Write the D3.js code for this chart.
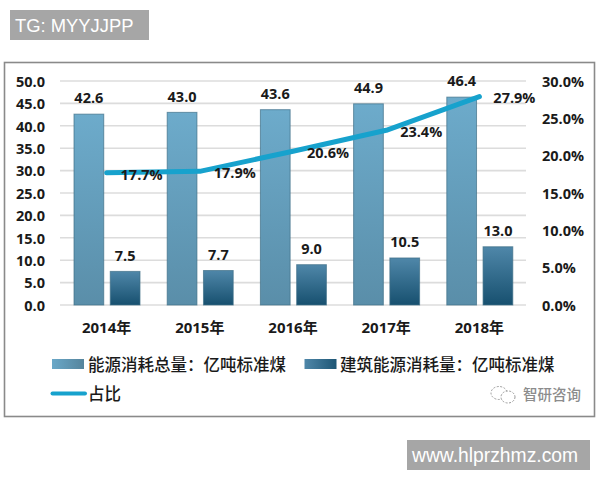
<!DOCTYPE html>
<html><head><meta charset="utf-8">
<script src="https://cdn.jsdelivr.net/npm/d3@7"></script>
<style>
html,body{margin:0;padding:0;background:#fff}
svg{display:block}
text{font-family:"Open Sans","Noto Sans CJK SC",sans-serif;font-weight:700;fill:#1a1a1a}
.cjk{font-family:"Noto Sans CJK SC",sans-serif}
.domain{display:none}
.tick line{display:none}
</style></head><body>
<script>
const categories=["2014年","2015年","2016年","2017年","2018年"];
const totalEnergy=[42.6,43.0,43.6,44.9,46.4];
const buildingEnergy=[7.5,7.7,9.0,10.5,13.0];
const share=[17.7,17.9,20.6,23.4,27.9];
const seriesNames=["能源消耗总量\uFF1A亿吨标准煤","建筑能源消耗量\uFF1A亿吨标准煤","占比"];
const leftTicks=[0,5,10,15,20,25,30,35,40,45,50];
const rightTicks=[0,5,10,15,20,25,30];

const svg=d3.select("body").append("svg").attr("width",600).attr("height",480);
const defs=svg.append("defs");
function grad(id,a,b){const g=defs.append("linearGradient").attr("id",id).attr("x1",0).attr("x2",0).attr("y1",0).attr("y2",1);
 g.append("stop").attr("offset","0%").attr("stop-color",a);g.append("stop").attr("offset","100%").attr("stop-color",b);}
grad("g1","#6dabcb","#5a8ea9");
grad("g2","#4f87a9","#17506f");
function hgrad(id,a,b){const g=defs.append("linearGradient").attr("id",id);
 g.append("stop").attr("offset","0%").attr("stop-color",a);g.append("stop").attr("offset","100%").attr("stop-color",b);}
hgrad("h1","#6aa8c8","#55849c");
hgrad("h2","#4f87a9","#1d5675");

// frame
svg.append("rect").attr("x",4.5).attr("y",62.5).attr("width",590).attr("height",354)
 .attr("fill","#fff").attr("stroke","#8a8a8a").attr("stroke-width",1.6);

const x=d3.scaleBand().domain(categories).range([60,526]);
const inner=d3.scaleBand().domain([0,1]).range([14,80]).paddingInner(0.18);
const y=d3.scaleLinear().domain([0,50]).range([305,81]);
const yR=d3.scaleLinear().domain([0,30]).range([305,81]);

// gridlines
svg.append("g").selectAll("line").data(leftTicks).join("line")
 .attr("x1",60).attr("x2",526).attr("y1",d=>y(d)).attr("y2",d=>y(d))
 .attr("stroke","#dcdcdc").attr("stroke-width",1.6);

// axes
const axL=svg.append("g").attr("transform","translate(60,0)")
 .call(d3.axisLeft(y).tickValues(leftTicks).tickFormat(d3.format(".1f")).tickSize(0).tickPadding(15));
axL.selectAll("text").attr("font-size",14.5).attr("dy","0.36em");
const axR=svg.append("g").attr("transform","translate(526,0)")
 .call(d3.axisRight(yR).tickValues(rightTicks).tickFormat(d=>d.toFixed(1)+"%").tickSize(0).tickPadding(16));
axR.selectAll("text").attr("font-size",14.5).attr("dy","0.36em");
const axB=svg.append("g").attr("transform","translate(0,305)")
 .call(d3.axisBottom(x).tickSize(0).tickPadding(17));
axB.selectAll("text").attr("font-size",15).attr("dy","0.71em");

// bars
function bars(vals,idx,fill){
 const g=svg.append("g");
 g.selectAll("rect").data(vals).join("rect")
  .attr("x",(d,i)=>x(categories[i])+inner(idx))
  .attr("width",inner.bandwidth())
  .attr("y",d=>y(d)).attr("height",d=>y(0)-y(d))
  .attr("fill",fill).attr("stroke","#3f6f88").attr("stroke-opacity",0.7).attr("stroke-width",1);
 svg.append("g").selectAll("text").data(vals).join("text")
  .attr("x",(d,i)=>x(categories[i])+inner(idx)+inner.bandwidth()/2)
  .attr("y",d=>y(d)-16).attr("dy","0.36em").attr("text-anchor","middle")
  .attr("font-size",14.5).text(d=>d.toFixed(1));
}
bars(totalEnergy,0,"url(#g1)");
bars(buildingEnergy,1,"url(#g2)");

// line
const cx=i=>x(categories[i])+x.bandwidth()/2;
const line=d3.line().x((d,i)=>cx(i)).y(d=>yR(d));
svg.append("path").datum(share).attr("d",line).attr("fill","none")
 .attr("stroke","#17a2cd").attr("stroke-width",5).attr("stroke-linecap","round").attr("stroke-linejoin","round");
svg.append("g").selectAll("text").data(share).join("text")
 .attr("x",(d,i)=>cx(i)+35).attr("y",d=>yR(d)+1.5).attr("dy","0.36em")
 .attr("text-anchor","middle").attr("font-size",14.5).text(d=>d.toFixed(1)+"%");

// legend
const lg=svg.append("g");
lg.append("rect").attr("x",52).attr("y",359).attr("width",32).attr("height",10).attr("fill","url(#h1)");
lg.append("rect").attr("x",304.5).attr("y",359).attr("width",32).attr("height",10).attr("fill","url(#h2)");
lg.append("line").attr("x1",52.5).attr("x2",85).attr("y1",393.5).attr("y2",393.5)
 .attr("stroke","#17a2cd").attr("stroke-width",4).attr("stroke-linecap","round");
[[88,365,seriesNames[0]],[340,365,seriesNames[1]],[88,394,seriesNames[2]]].forEach(([px,py,t])=>{
 lg.append("text").attr("class","cjk").attr("x",px).attr("y",py).attr("dy","0.36em")
  .attr("font-size",16.5).style("font-weight",500).text(t);
});

// watermark logo
const wm=svg.append("g").attr("fill","#fff").attr("stroke","#9a9a9a").attr("stroke-width",1).attr("stroke-dasharray","2 1.5");
wm.append("ellipse").attr("cx",499).attr("cy",393).attr("rx",8).attr("ry",6.5);
wm.append("ellipse").attr("cx",508).attr("cy",397).attr("rx",7).attr("ry",6);
svg.append("text").attr("class","cjk").attr("x",523).attr("y",395).attr("dy","0.36em")
 .attr("font-size",14.5).style("font-weight",500).style("fill","#8c8c8c").text("智研咨询");

// overlay labels
svg.append("rect").attr("x",10).attr("y",10).attr("width",139).attr("height",30).attr("fill","#a6a6a6");
svg.append("text").attr("x",15).attr("y",25).attr("dy","0.36em")
 .style("font-family","'Liberation Sans',sans-serif").style("font-weight",400).style("fill","#fff")
 .attr("font-size",18.4).text("TG: MYYJJPP");
svg.append("rect").attr("x",407).attr("y",440).attr("width",183).attr("height",30).attr("fill","#a6a6a6");
svg.append("text").attr("x",412).attr("y",455).attr("dy","0.36em")
 .style("font-family","'Liberation Sans',sans-serif").style("font-weight",400).style("fill","#fff")
 .attr("font-size",19.3).text("www.hlprzhmz.com");
</script>
</body></html>
